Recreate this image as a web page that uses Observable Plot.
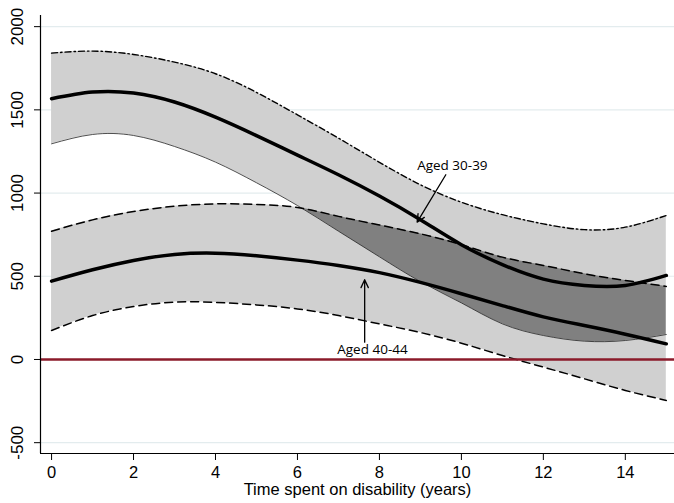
<!DOCTYPE html>
<html><head><meta charset="utf-8">
<script src="https://cdn.jsdelivr.net/npm/d3@7"></script>
<script src="https://cdn.jsdelivr.net/npm/@observablehq/plot@0.6"></script>
<style>body{margin:0;background:#fff} #chart{width:674px;height:503px}</style>
</head><body><div id="chart"></div>
<script>
const years     = [0, 1, 2, 3, 4, 5, 6, 7, 8, 9, 10, 11, 12, 13, 14, 15];
const upper3039 = [1841, 1853, 1833, 1787, 1717, 1605, 1470, 1330, 1185, 1050, 945, 870, 815, 780, 795, 865];
const mean3039  = [1567, 1607, 1601, 1547, 1456, 1345, 1228, 1110, 982, 840, 690, 570, 483, 445, 445, 505];
const lower3039 = [1296, 1352, 1346, 1280, 1186, 1062, 925, 771, 617, 468, 340, 214, 144, 110, 114, 150];
const upper4044 = [771, 839, 889, 921, 935, 932, 913, 860, 808, 755, 690, 615, 565, 515, 475, 439];
const mean4044  = [471, 539, 595, 631, 639, 623, 597, 565, 522, 463, 395, 324, 256, 204, 152, 94];
const lower4044 = [174, 264, 318, 345, 343, 328, 304, 264, 214, 162, 98, 24, -46, -116, -186, -246];
const xTicks = [0, 2, 4, 6, 8, 10, 12, 14];
const yTicks = [-500, 0, 500, 1000, 1500, 2000];
const xDomain = [-0.27, 15.2];
const yDomain = [-565, 2067];
const xLabel = "Time spent on disability (years)";
const labelTexts = ["Aged 30-39", "Aged 40-44"];
const labelX = [9.78, 7.83];
const labelY = [1166, 60];
const arrowX1 = [9.62, 7.64], arrowY1 = [1110, 104];
const arrowX2 = [8.92, 7.64], arrowY2 = [825, 479];

const band3039 = years.map((x, i) => ({x, lo: lower3039[i], hi: upper3039[i], m: mean3039[i]}));
const band4044 = years.map((x, i) => ({x, lo: lower4044[i], hi: upper4044[i], m: mean4044[i]}));
const labels = labelTexts.map((t, i) => ({t, x: labelX[i], y: labelY[i]}));
const arrows = arrowX1.map((x1, i) => ({x1, y1: arrowY1[i], x2: arrowX2[i], y2: arrowY2[i]}));
const curve = "natural";

const plot = Plot.plot({
  width: 674, height: 503,
  marginLeft: 40, marginRight: 0, marginTop: 15, marginBottom: 50,
  x: {domain: xDomain},
  y: {domain: yDomain},
  style: {fontFamily: "'Liberation Sans', Arial, sans-serif", fontSize: "16px", background: "#fff", color: "#000"},
  marks: [
    Plot.ruleY(yTicks, {stroke: "#e3ecee", strokeWidth: 1.2}),
    Plot.areaY(band3039, {x: "x", y1: "lo", y2: "hi", fill: "#d0d0d0", curve}),
    Plot.areaY(band4044, {x: "x", y1: "lo", y2: "hi", fill: "#d0d0d0", curve}),
    Plot.areaY(band3039, {x: "x", y1: "lo", y2: "hi", fill: "#808080", curve}),
    Plot.line(band3039, {x: "x", y: "hi", stroke: "#000", strokeWidth: 1.4, strokeDasharray: "6,3,1.5,3", curve}),
    Plot.line(band3039, {x: "x", y: "lo", stroke: "#222", strokeWidth: 0.8, curve}),
    Plot.line(band4044, {x: "x", y: "hi", stroke: "#000", strokeWidth: 1.5, strokeDasharray: "8,5", curve}),
    Plot.line(band4044, {x: "x", y: "lo", stroke: "#000", strokeWidth: 1.5, strokeDasharray: "8,5", curve}),
    Plot.ruleY([0], {stroke: "#8b1a2a", strokeWidth: 2.5}),
    Plot.line(band3039, {x: "x", y: "m", stroke: "#000", strokeWidth: 3.5, curve}),
    Plot.line(band4044, {x: "x", y: "m", stroke: "#000", strokeWidth: 3.5, curve}),
    Plot.arrow(arrows, {x1: "x1", y1: "y1", x2: "x2", y2: "y2", stroke: "#000", strokeWidth: 1.3, headLength: 10, headAngle: 50}),
    Plot.text(labels, {x: "x", y: "y", text: "t", fontFamily: "'Open Sans', sans-serif", fontSize: 13.5, fill: "#000"}),
    Plot.axisX({ticks: xTicks, tickSize: 7, label: null, tickFormat: () => ""}),
    Plot.text(xTicks, {x: d => d, frameAnchor: "bottom", dy: 24, text: d => String(d), fontSize: 16.5, fill: "#000"}),
    Plot.axisY({ticks: yTicks, tickSize: 6, tickPadding: 12, tickRotate: -90, label: null, tickFormat: d => String(d), fontSize: 17}),
    Plot.text([xLabel], {frameAnchor: "bottom", dy: 41, fontSize: 16.5, fill: "#000"}),
    Plot.ruleX([xDomain[0]], {stroke: "#000", strokeWidth: 1.2}),
    Plot.ruleY([yDomain[0]], {stroke: "#000", strokeWidth: 1.2})
  ]
});

// Clip the dark copy of the 30-39 band to the 40-44 band to show the overlap
const areas = plot.querySelectorAll('g[aria-label="area"]');
if (areas.length >= 3) {
  const ns = "http://www.w3.org/2000/svg";
  const defs = document.createElementNS(ns, "defs");
  const cp = document.createElementNS(ns, "clipPath");
  cp.setAttribute("id", "overlapClip");
  areas[1].querySelectorAll("path").forEach(p => cp.appendChild(p.cloneNode(true)));
  defs.appendChild(cp);
  plot.insertBefore(defs, plot.firstChild);
  areas[2].setAttribute("clip-path", "url(#overlapClip)");
}
document.getElementById("chart").appendChild(plot);
</script>
</body></html>
